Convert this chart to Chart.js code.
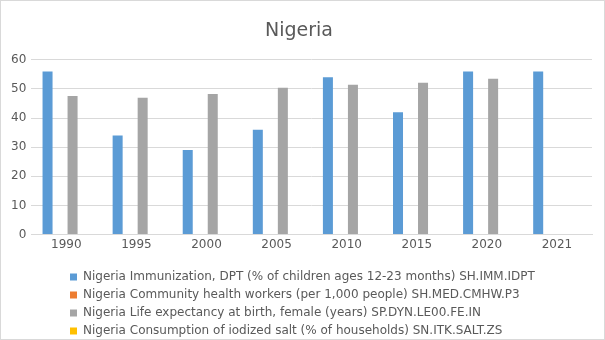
<!DOCTYPE html>
<html>
<head>
<meta charset="utf-8">
<script src="https://cdn.jsdelivr.net/npm/chart.js@4/dist/chart.umd.min.js"></script>
<style>
  html, body { margin: 0; padding: 0; background: #fff; }
  #wrap { width: 605px; height: 340px; box-sizing: border-box; border: 1px solid #d9d9d9; position: relative; }
  canvas { display: block; }
</style>
</head>
<body>
<div id="wrap"><canvas id="c" width="603" height="338"></canvas></div>
<script>
const title = "Nigeria";
const categories = ["1990", "1995", "2000", "2005", "2010", "2015", "2020", "2021"];
const seriesNames = [
  "Nigeria Immunization, DPT (% of children ages 12-23 months) SH.IMM.IDPT",
  "Nigeria Community health workers (per 1,000 people) SH.MED.CMHW.P3",
  "Nigeria Life expectancy at birth, female (years) SP.DYN.LE00.FE.IN",
  "Nigeria Consumption of iodized salt (% of households) SN.ITK.SALT.ZS"
];
const immunizationDPT = [56, 34, 29, 36, 54, 42, 56, 56];
const communityHealthWorkers = [null, null, null, null, null, null, null, null];
const lifeExpectancyFemale = [47.6, 47.0, 48.3, 50.4, 51.4, 52.1, 53.5, null];
const iodizedSalt = [null, null, null, null, null, null, null, null];
const yTicks = [0, 10, 20, 30, 40, 50, 60];

const colors = ["#5B9BD5", "#ED7D31", "#A5A5A5", "#FFC000"];
const seriesData = [immunizationDPT, communityHealthWorkers, lifeExpectancyFemale, iodizedSalt];

const textColor = "#595959";
const fontFamily = "'DejaVu Sans', sans-serif";

const legendShift = {
  id: 'legendShift',
  afterLayout(chart) {
    const lg = chart.legend;
    if (lg) { lg.left += 58; lg.right += 58; lg.top += 10; lg.bottom += 10; }
  }
};

new Chart(document.getElementById('c'), {
  type: 'bar',
  data: {
    labels: categories,
    datasets: seriesNames.map((n, i) => ({
      label: n,
      data: seriesData[i],
      backgroundColor: colors[i],
      borderWidth: 0,
      categoryPercentage: 0.714,
      barPercentage: 0.8
    }))
  },
  options: {
    responsive: false,
    animation: false,
    layout: { padding: { left: 5, right: 12, top: 10, bottom: 2 } },
    plugins: {
      title: {
        display: true,
        text: title,
        color: textColor,
        font: { family: fontFamily, size: 19, weight: 'normal' },
        padding: { top: 9, bottom: 17 }
      },
      legend: {
        position: 'bottom',
        align: 'start',
        labels: {
          color: textColor,
          font: { family: fontFamily, size: 12 },
          boxWidth: 7,
          boxHeight: 7,
          padding: 6
        }
      },
      tooltip: { enabled: false }
    },
    scales: {
      x: {
        grid: { display: false, drawTicks: false },
        border: { display: true, color: '#d9d9d9' },
        ticks: { color: textColor, font: { family: fontFamily, size: 12 }, padding: 3 }
      },
      y: {
        min: 0, max: 60,
        afterBuildTicks(axis) { axis.ticks = yTicks.map(v => ({ value: v })); },
        grid: { color: '#d9d9d9', drawTicks: false },
        border: { display: false },
        ticks: { color: textColor, font: { family: fontFamily, size: 12 }, padding: 5 }
      }
    }
  },
  plugins: [legendShift]
});
</script>
</body>
</html>
